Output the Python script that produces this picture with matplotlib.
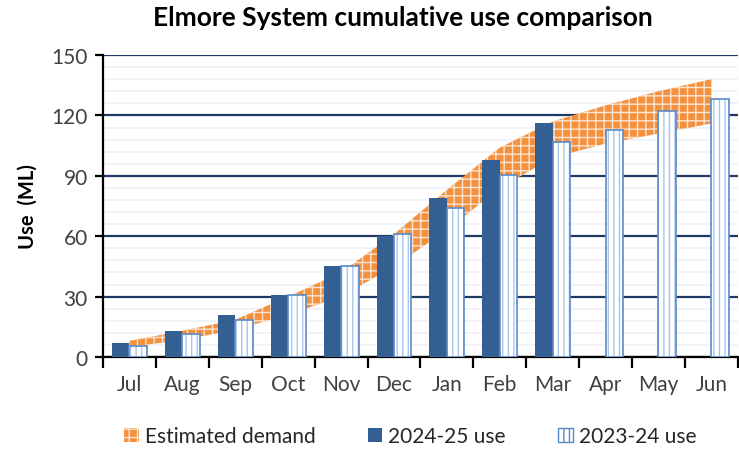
import numpy as np
import matplotlib
matplotlib.use('Agg')
import matplotlib.pyplot as plt
from matplotlib.patches import Patch

plt.rcParams['font.family'] = ['Lato', 'DejaVu Sans']
plt.rcParams['hatch.linewidth'] = 1.0

months = ['Jul', 'Aug', 'Sep', 'Oct', 'Nov', 'Dec', 'Jan', 'Feb', 'Mar', 'Apr', 'May', 'Jun']
use_2425 = [7, 13, 21, 31, 45, 60, 79, 98, 116]
use_2324 = [5.5, 11.5, 18.5, 31, 45, 61, 74, 90.5, 107, 113, 122, 128]
demand_low = [5, 8.5, 13.5, 21, 30, 45, 63, 84, 99, 106, 111, 116]
demand_high = [8, 13, 18.5, 30, 42, 61, 83, 104, 117, 125, 132, 138]

fig = plt.figure(figsize=(7.39, 4.52), dpi=100)
ax = fig.add_axes([0.1394, 0.208, 0.859, 0.668])

x = np.arange(len(months))
w = 0.33

# estimated demand band
ax.fill_between(x, demand_low, demand_high, facecolor='#F3913F', edgecolor='#FBE3CF',
                hatch='++', linewidth=0, zorder=2)

# 2024-25 bars
ax.bar(x[:len(use_2425)] - w / 2, use_2425, w, color='#335F93', zorder=3)
# 2023-24 bars
ax.bar(x + w / 2, use_2324, w, color='white', edgecolor='#A9C6EA', hatch='|||',
       linewidth=0, zorder=3)
ax.bar(x + w / 2, use_2324, w, fill=False, edgecolor='#5A8AC6', linewidth=1.2, zorder=4)

ax.set_xlim(-0.5, len(months) - 0.5)
ax.set_ylim(0, 150)
ax.set_yticks(np.arange(0, 151, 30))
ax.set_yticks(np.arange(0, 151, 6), minor=True)
ax.grid(axis='y', which='major', color='#1F3864', linewidth=1.6, zorder=1)
ax.grid(axis='y', which='minor', color='#EDF2F9', linewidth=1.2, zorder=0)
ax.set_axisbelow(True)

ax.set_xticks(x)
ax.set_xticklabels(months)
ax.set_xticks(np.arange(-0.5, len(months), 1), minor=True)
ax.tick_params(axis='x', which='major', length=0, pad=12, labelsize=15, labelcolor='#404040')
ax.tick_params(axis='x', which='minor', length=8, width=1.6, color='black')
ax.tick_params(axis='y', which='major', length=6, width=1.6, color='black',
               labelsize=15, labelcolor='#404040', pad=5)
ax.tick_params(axis='y', which='minor', length=0)

for s in ['top', 'right']:
    ax.spines[s].set_visible(False)
for s in ['left', 'bottom']:
    ax.spines[s].set_linewidth(1.6)
    ax.spines[s].set_color('black')

ax.set_ylabel('Use  (ML)', fontsize=14.5, fontweight='bold', labelpad=10)
fig.text(0.545, 0.96, 'Elmore System cumulative use comparison', ha='center', va='center',
         fontsize=19, fontweight='bold')

handles = [Patch(facecolor='#F3913F', edgecolor='#FBE3CF', hatch='++', linewidth=0),
           Patch(facecolor='#335F93'),
           Patch(facecolor='white', edgecolor='#5A8AC6', hatch='|||')]
fig.legend(handles, ['Estimated demand', '2024-25 use', '2023-24 use'],
           loc='center', bbox_to_anchor=(0.555, 0.033), ncol=3, frameon=False,
           handlelength=0.7, handleheight=0.7, handletextpad=0.3, columnspacing=2.5,
           fontsize=15, labelcolor='#262626')

fig.savefig('out.png', dpi=100)
